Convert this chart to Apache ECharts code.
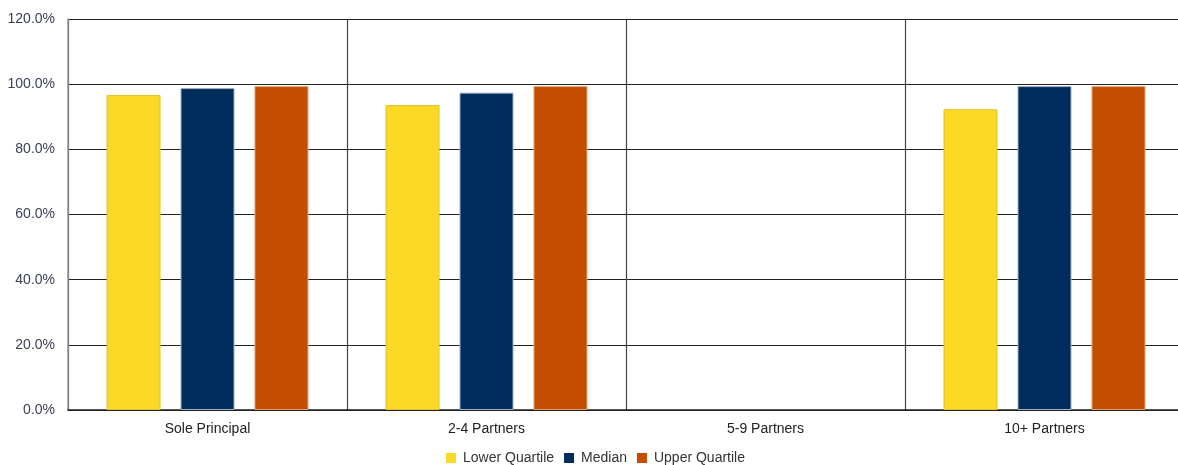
<!DOCTYPE html>
<html>
<head>
<meta charset="utf-8">
<script src="https://cdn.jsdelivr.net/npm/echarts@6/dist/echarts.min.js"></script>
<style>
  html, body { margin: 0; padding: 0; background: #fff; }
  #chart { width: 1178px; height: 465px; }
</style>
</head>
<body>
<div id="chart"></div>
<script>
// Practice size groups and quartile values (percent)
const categories = ['Sole Principal', '2-4 Partners', '5-9 Partners', '10+ Partners'];
const lowerQuartile = [96.7, 93.6, null, 92.3];
const median = [98.8, 97.4, null, 99.4];
const upperQuartile = [99.4, 99.4, null, 99.4];
const yTicks = { min: 0, max: 120, interval: 20 };

const chart = echarts.init(document.getElementById('chart'), null, { renderer: 'canvas' });

function barSeries(name, data, color, border) {
  return {
    name: name,
    type: 'bar',
    data: data,
    barWidth: 54,
    barGap: '37%',
    itemStyle: { color: color, borderColor: border, borderWidth: 1 }
  };
}

chart.setOption({
  animation: false,
  textStyle: { fontFamily: 'Arial, "Liberation Sans", sans-serif' },
  grid: { left: 68, top: 19, width: 1116, height: 391, outerBoundsMode: 'none', containLabel: false },
  legend: {
    top: 446,
    left: 441,
    itemWidth: 10,
    itemHeight: 10,
    itemGap: 10,
    icon: 'rect',
    itemStyle: { borderWidth: 0 },
    textStyle: { fontSize: 14, color: '#333', padding: [0, 0, 0, 2] },
    data: ['Lower Quartile', 'Median', 'Upper Quartile']
  },
  xAxis: {
    type: 'category',
    data: categories,
    boundaryGap: true,
    axisLine: { show: true, lineStyle: { color: '#222', width: 1.5 } },
    axisTick: { show: false },
    axisLabel: { color: '#222', fontSize: 14, margin: 12 },
    splitLine: { show: true, lineStyle: { color: '#444', width: 1.2 } }
  },
  yAxis: {
    type: 'value',
    min: yTicks.min,
    max: yTicks.max,
    interval: yTicks.interval,
    axisLine: { show: true, lineStyle: { color: '#999', width: 1.5 } },
    axisTick: { show: false },
    axisLabel: {
      color: '#3a3f55',
      fontSize: 14,
      margin: 13,
      formatter: v => v.toFixed(1) + '%'
    },
    splitLine: { show: true, lineStyle: { color: '#222', width: 1.2 } }
  },
  series: [
    barSeries('Lower Quartile', lowerQuartile, '#FCD925', '#E5C22A'),
    barSeries('Median', median, '#002D5B', '#9FB0C5'),
    barSeries('Upper Quartile', upperQuartile, '#C44D00', '#E0A27A')
  ]
});
</script>
</body>
</html>
